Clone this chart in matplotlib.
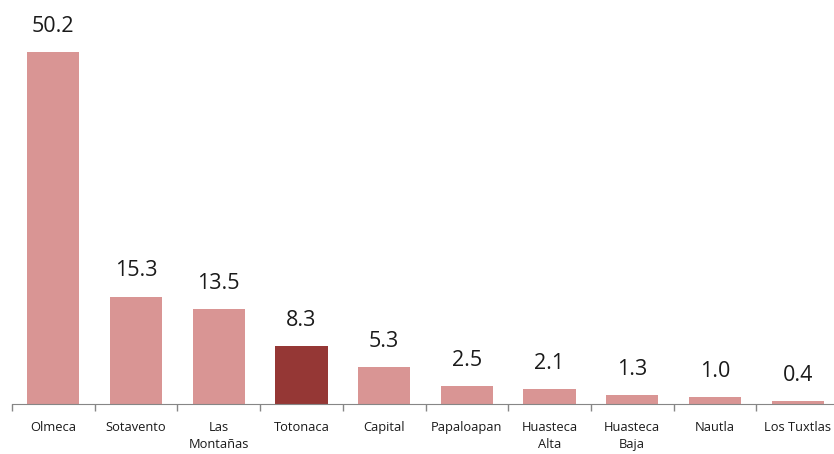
import matplotlib.pyplot as plt
import numpy as np

# regions and values
regions = ["Olmeca", "Sotavento", "Las\nMontañas", "Totonaca", "Capital",
           "Papaloapan", "Huasteca\nAlta", "Huasteca\nBaja", "Nautla", "Los Tuxtlas"]
values = [50.2, 15.3, 13.5, 8.3, 5.3, 2.5, 2.1, 1.3, 1.0, 0.4]
highlight = "Totonaca"

LIGHT = "#D99594"
DARK = "#953735"
AXIS = "#868686"

plt.rcParams["font.family"] = ["Open Sans", "DejaVu Sans"]

fig = plt.figure(figsize=(8.34, 4.54), dpi=100)
# axis spans from x=12px to past the right edge, baseline at y=404px
ax = fig.add_axes([12 / 834, 50 / 454, 827 / 834, 404 / 454])

x = np.arange(len(regions))
colors = [DARK if r == highlight else LIGHT for r in regions]
bars = ax.bar(x, values, width=0.63, color=colors)

for xi, v in zip(x, values):
    ax.annotate("{0:.1f}".format(v), (xi, v), xytext=(0, 11),
                textcoords="offset points", ha="center", va="bottom",
                fontsize=15.5, color="#1a1a1a")

ax.set_xlim(-0.5, len(regions) - 0.5)
ax.set_ylim(0, 57.6)

ax.set_xticks(x)
ax.set_xticklabels(regions, fontsize=9.3, color="#1a1a1a", linespacing=1.45)
ax.set_xticks(np.arange(len(regions) + 1) - 0.5, minor=True)
ax.tick_params(axis="x", which="major", length=0, pad=12)
ax.tick_params(axis="x", which="minor", length=5, color=AXIS, width=1)
ax.set_yticks([])

for side in ["top", "right", "left"]:
    ax.spines[side].set_visible(False)
ax.spines["bottom"].set_color(AXIS)

fig.savefig("out.png", dpi=100)
